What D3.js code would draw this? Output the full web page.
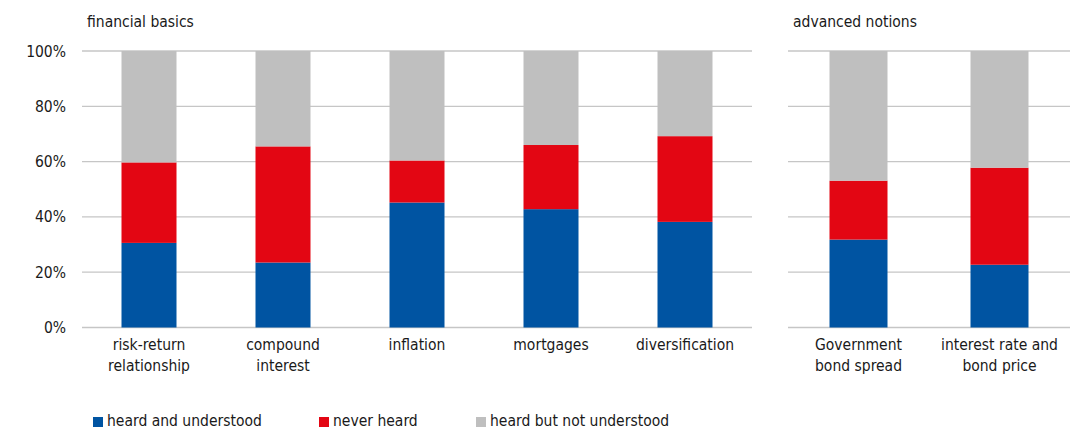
<!DOCTYPE html>
<html><head><meta charset="utf-8">
<script src="https://cdn.jsdelivr.net/npm/d3@7"></script>
<style>
body{margin:0;background:#fff;}
text{font-family:"DejaVu Sans Condensed","DejaVu Sans",sans-serif;fill:#1a1a1a;}
</style></head><body>
<svg id="c" width="1079" height="430"></svg>
<script>
const basicsCats = [["risk-return","relationship"],["compound","interest"],["inflation"],["mortgages"],["diversification"]];
const advancedCats = [["Government","bond spread"],["interest rate and","bond price"]];
const panelTitles = ["financial basics","advanced notions"];
const seriesNames = ["heard and understood","never heard","heard but not understood"];
const understoodBasics = [30.6, 23.5, 45.2, 42.8, 38.2];
const neverBasics = [29.1, 42.0, 15.2, 23.2, 31.0];
const notUnderstoodBasics = [40.3, 34.5, 39.6, 34.0, 30.8];
const understoodAdv = [31.8, 22.7];
const neverAdv = [21.3, 35.1];
const notUnderstoodAdv = [46.9, 42.2];
const yTicks = [0,20,40,60,80,100];
const colors = ["#0054a2","#e30613","#bfbfbf"];

const svg = d3.select("#c");
const y = d3.scaleLinear().domain([0,100]).range([327.5,51]);
const fs = 15.5;

svg.append("g").selectAll("text").data(yTicks).join("text")
  .attr("x",66).attr("y",d=>y(d)+5.5).attr("text-anchor","end").attr("font-size",fs)
  .text(d=>d+"%");

function panel(cats, vals, x0, x1, title, barW){
  const names = cats.map(c=>c.join(" "));
  const x = d3.scaleBand().domain(names).range([x0,x1]).paddingInner(0).paddingOuter(0);
  const g = svg.append("g");
  g.selectAll("line.grid").data(yTicks).join("line").attr("class","grid")
    .attr("x1",x0).attr("x2",x1).attr("y1",d=>y(d)).attr("y2",d=>y(d))
    .attr("stroke","#c6c6c6").attr("stroke-width",1.3);
  const stackData = names.map((n,i)=>({name:n, s0:vals[0][i], s1:vals[1][i], s2:vals[2][i]}));
  const stack = d3.stack().keys(["s0","s1","s2"])(stackData);
  stack.forEach((layer,k)=>{
    g.selectAll(null).data(layer).join("rect")
      .attr("x",d=>x(d.data.name)+(x.bandwidth()-barW)/2).attr("width",barW)
      .attr("y",d=>y(d[1])).attr("height",d=>y(d[0])-y(d[1]))
      .attr("fill",colors[k]);
  });
  cats.forEach((c,i)=>{
    const cx = x(names[i])+x.bandwidth()/2;
    const t = g.append("text").attr("text-anchor","middle").attr("font-size",fs)
      .attr("x",cx).attr("y",350);
    c.forEach((line,j)=>t.append("tspan").attr("x",cx).attr("dy",j?20.5:0).text(line));
  });
  svg.append("text").attr("x",x0+5).attr("y",27).attr("font-size",fs).text(title);
}
panel(basicsCats,[understoodBasics,neverBasics,notUnderstoodBasics],82,752,panelTitles[0],55);
panel(advancedCats,[understoodAdv,neverAdv,notUnderstoodAdv],788,1070,panelTitles[1],58);

const lx = [93,319,476];
const lg = svg.append("g");
seriesNames.forEach((n,i)=>{
  lg.append("rect").attr("x",lx[i]).attr("y",417).attr("width",10).attr("height",10).attr("fill",colors[i]);
  lg.append("text").attr("x",lx[i]+14).attr("y",426).attr("font-size",fs).text(n);
});
</script></body></html>
